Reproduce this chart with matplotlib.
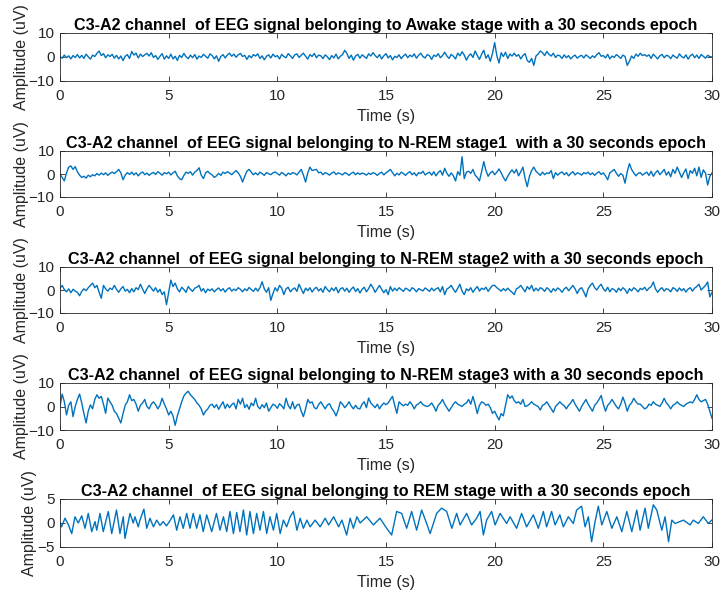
import numpy as np
import matplotlib
matplotlib.use("Agg")
import matplotlib.pyplot as plt

plt.rcParams['font.family'] = ['Liberation Sans', 'DejaVu Sans']

# ---- data (uV), sampled every 0.1 s from 0 to 30 s ----
sample_step = 0.1

awake = [
 0.2,-0.5,0.8,-0.3,0.5,-0.8,0.6,-0.2,1.0,-0.4,
 0.7,-0.6,1.2,0.1,-0.9,0.8,0.2,1.5,2.5,0.6,
 1.4,-0.3,0.9,0.2,1.1,-0.5,0.7,-0.8,0.4,-1.5,
 0.3,1.0,-0.6,2.3,0.8,1.6,-0.4,1.2,0.2,0.9,
 1.5,0.4,1.8,-0.2,0.6,-1.0,0.3,1.4,-0.9,0.5,
 -0.6,1.2,-0.8,0.3,-1.4,0.7,-0.2,1.5,0.1,-0.7,
 0.8,-0.3,1.0,-0.9,0.4,-0.2,1.1,0.3,-0.5,1.3,
 0.6,-0.8,0.5,-1.8,0.2,1.0,-0.4,0.8,1.6,0.3,
 1.2,-0.1,0.9,1.5,0.2,0.7,-1.0,0.6,-0.3,1.0,
 0.4,1.3,-0.6,0.5,-1.2,0.3,0.9,-0.4,1.2,0.1,
 0.6,-0.8,1.1,0.2,-0.3,1.4,0.5,-0.6,0.9,1.3,
 -0.2,0.7,1.6,0.3,-0.9,1.0,0.2,1.5,-0.3,0.8,
 0.5,-0.7,0.9,0.1,-1.1,0.6,-0.4,1.2,-0.8,0.3,
 1.0,2.8,1.5,-0.6,0.8,-1.3,0.4,1.1,-0.5,0.9,
 0.2,-0.6,1.3,0.4,1.8,0.6,-0.3,1.0,-0.8,0.5,
 1.4,-0.4,0.6,-1.2,0.3,-0.2,0.9,-0.7,0.4,1.2,
 -0.3,0.8,0.1,1.3,-0.5,0.7,1.6,0.2,-0.4,1.0,
 0.5,-1.0,0.8,0.2,1.4,-0.3,0.6,2.0,0.4,-0.6,
 1.1,0.3,-0.8,1.6,0.5,2.2,0.8,-1.3,0.4,1.3,
 -0.2,2.5,0.6,-1.0,1.2,2.8,-0.5,0.9,-1.8,1.5,
 6.0,0.5,-2.5,1.8,0.2,2.0,-0.6,1.2,0.4,1.6,
 0.3,1.0,-0.8,0.6,1.4,-1.5,-2.2,-0.6,-3.5,0.4,
 1.2,2.5,1.8,0.6,2.3,1.1,0.4,1.6,-0.2,0.8,
 0.5,-0.6,0.9,-0.3,0.6,-0.8,0.2,0.8,-0.5,0.3,
 0.7,-0.4,0.9,0.2,-0.6,0.5,-0.2,1.0,1.8,0.3,
 0.6,-0.4,1.1,-0.8,0.4,-0.2,1.0,0.3,-0.6,0.8,
 0.2,-3.5,-1.8,0.4,-0.6,1.2,0.3,1.6,0.6,1.0,
 0.3,0.9,-0.6,1.2,0.2,-0.8,0.5,1.1,-0.3,0.7,
 0.4,-0.7,0.8,0.1,-0.5,1.3,0.2,-0.4,0.9,-0.9,
 0.5,1.2,-0.3,0.8,-0.6,1.0,0.3,-0.5,0.7,0.2,
 0.0]

nrem1 = [
 0.0,-1.5,-3.0,0.5,3.0,3.5,2.0,3.2,1.0,-0.5,
 -1.5,-1.0,-1.8,-0.5,-1.2,-0.3,-0.8,0.2,-0.5,0.4,
 -0.3,0.5,-0.6,0.3,0.8,0.2,1.0,2.0,0.5,-2.5,
 -0.5,0.6,-0.2,0.8,-0.4,0.5,-0.8,0.3,0.9,-0.3,
 0.4,-0.6,0.2,0.7,-0.2,1.0,0.3,-0.5,0.6,0.1,
 0.8,-0.4,0.5,1.2,-0.8,-2.0,-2.5,-0.6,0.8,0.3,
 1.0,-0.5,0.8,1.5,2.7,-0.5,-2.0,0.5,1.2,0.2,
 -0.4,-1.5,-0.8,0.3,-0.6,0.8,0.2,1.0,0.4,-0.3,
 0.6,1.5,0.5,-1.0,-3.5,-1.0,1.2,2.0,0.8,-0.3,
 0.5,-0.4,0.8,0.2,-0.6,0.6,0.1,-0.3,0.5,0.9,
 0.2,-0.5,0.7,0.0,-0.8,0.4,-0.2,0.6,0.3,-0.4,
 0.8,2.0,-0.5,-3.5,0.5,3.0,1.5,1.8,2.0,0.5,
 0.8,-0.3,0.6,0.2,-0.5,0.4,0.9,-0.2,0.5,0.1,
 -0.4,0.6,0.2,-0.6,0.3,0.8,-0.3,0.5,-0.2,0.4,
 0.1,-0.5,0.4,-0.2,0.6,0.2,-0.6,0.3,0.8,-0.4,
 0.5,1.2,2.0,0.6,-0.8,0.3,-0.4,0.8,0.2,-0.6,
 0.4,1.0,-0.3,0.5,-0.8,0.6,0.2,1.2,-0.4,0.3,
 0.8,-0.5,1.0,-0.8,0.6,1.5,-0.5,2.5,0.3,-1.0,
 0.5,-0.8,-3.0,1.0,-0.5,7.5,-2.0,0.8,1.2,0.3,
 2.0,-0.5,-1.5,-3.0,1.0,5.4,1.5,-1.0,0.5,1.2,
 -0.3,0.8,2.2,0.5,-1.5,-3.0,-1.0,0.6,1.8,0.4,
 2.0,-0.8,1.0,3.0,-2.0,-5.5,-1.0,1.5,3.0,1.2,
 0.3,-0.6,0.8,-0.3,0.5,0.2,1.5,-2.0,0.6,-0.5,
 0.4,0.9,-0.3,0.6,-0.8,0.3,1.0,-0.4,0.5,0.2,
 -0.5,0.6,0.1,0.8,-0.3,0.5,-0.6,0.4,1.0,-0.2,
 0.5,-0.8,-2.5,0.5,1.2,2.0,0.3,-1.0,0.2,-0.5,
 -4.0,1.0,4.5,2.0,0.5,-0.8,0.3,0.6,-0.5,0.2,
 0.8,-0.6,1.2,-1.0,0.5,1.5,-0.3,0.8,2.0,-0.5,
 1.0,-1.2,2.0,0.3,3.0,0.8,-1.5,0.5,2.2,-2.0,
 1.5,0.3,2.5,-0.8,3.0,-1.5,1.8,0.4,-4.8,-1.0,
 0.5]

nrem2 = [
 0.7,2.0,0.2,-0.8,0.5,-1.2,0.3,-0.5,-1.0,-2.5,
 -0.6,0.5,-0.3,1.0,2.0,3.0,1.0,2.0,-1.0,-3.6,
 2.0,0.5,-0.5,0.8,0.2,2.0,0.3,-1.0,0.5,1.5,
 -0.5,0.3,-1.2,0.6,-0.8,1.0,0.2,2.5,0.4,-1.5,
 0.5,2.0,0.8,-0.5,1.0,-1.0,0.3,-2.0,-0.8,-6.4,
 -1.0,4.3,1.5,3.0,0.5,-0.8,1.2,0.2,-1.0,1.5,
 0.3,-0.6,0.8,1.2,2.0,-0.5,0.6,-1.2,0.4,-0.3,
 0.5,-0.8,0.2,0.9,-0.4,0.6,-0.9,0.3,1.0,-0.5,
 0.4,-0.2,1.0,0.3,-0.8,0.5,-0.3,1.1,0.2,-0.6,
 0.8,-0.5,1.0,3.6,0.5,-1.0,1.0,-4.5,-1.5,1.0,
 -0.5,2.0,0.8,-2.0,0.5,1.2,-0.8,0.3,0.9,-0.6,
 2.5,0.4,-1.5,0.8,-0.3,1.0,-0.9,0.5,1.2,-0.4,
 0.6,-1.0,1.5,0.2,-0.8,0.9,-0.3,1.2,-1.2,0.5,
 1.0,-0.5,0.8,-1.0,0.4,1.3,-0.6,0.6,-1.3,0.3,
 1.2,-0.8,0.6,2.5,1.0,-1.0,0.5,2.0,0.3,-1.2,
 0.2,-2.0,1.5,-0.5,0.8,-0.3,1.0,0.2,-0.6,0.8,
 0.3,-0.5,1.0,0.4,-0.8,0.6,0.1,-0.4,0.9,0.2,
 -0.6,0.8,-0.3,0.5,1.0,-0.8,1.5,-2.0,0.4,1.0,
 2.0,0.3,-1.0,0.8,2.5,-0.5,-2.0,0.5,-0.3,1.0,
 -1.0,0.4,1.5,-0.5,0.8,0.2,1.2,-0.6,0.8,2.0,
 2.0,1.0,0.3,-0.5,0.6,-0.3,0.8,-0.2,-1.0,-2.0,
 0.5,1.0,2.0,0.6,-0.8,1.5,0.3,2.0,-0.5,0.8,
 -0.3,1.0,0.5,-0.6,1.0,0.2,-1.0,0.6,-0.4,0.9,
 0.2,-1.0,0.5,1.2,-0.3,0.8,2.0,0.5,-1.5,0.4,
 1.0,-0.8,-3.0,0.5,2.0,3.0,1.0,0.0,1.5,2.5,
 0.5,-0.5,1.2,-0.8,0.6,0.2,-1.0,0.8,-0.3,1.0,
 0.2,-1.5,0.6,-0.4,1.0,0.3,-0.8,0.7,0.2,1.2,
 -0.3,0.8,1.5,3.5,0.5,-1.0,0.3,1.0,-0.5,0.6,
 0.2,-0.8,1.0,0.5,-0.6,0.9,-0.3,0.6,-0.9,0.4,
 1.0,-0.5,0.8,1.5,2.5,0.0,1.0,2.0,3.5,-3.0,
 -1.0]

nrem3 = [
 0.0,5.3,2.0,-3.6,0.5,2.0,-4.3,0.0,3.0,5.3,
 1.5,-3.0,-7.0,-2.0,0.7,-1.0,3.0,5.0,3.5,4.3,
 1.0,-2.9,3.6,2.0,0.5,-2.0,-3.0,-5.0,-7.0,-3.0,
 0.5,2.0,5.0,2.5,3.0,1.0,-2.0,0.5,1.5,3.0,
 0.0,-1.0,1.0,2.0,0.8,-1.0,0.5,3.5,1.0,-1.0,
 -3.6,-2.0,-4.0,-8.0,-4.0,-1.0,2.0,4.5,5.7,6.5,
 5.0,4.0,3.0,1.5,0.5,-1.0,-3.6,-2.0,-1.0,0.5,
 1.0,-0.5,0.8,-1.2,0.5,2.0,-0.8,1.0,-0.5,0.8,
 1.5,-1.0,3.0,1.0,3.5,-0.5,0.8,-1.2,1.5,0.3,
 3.5,0.0,-1.0,0.8,-0.5,1.5,-2.0,-0.5,1.0,0.5,
 -0.8,1.2,0.3,-1.0,3.5,0.5,-1.0,2.0,-1.0,0.6,
 1.0,-2.0,-4.3,-1.0,3.0,1.5,2.0,-0.5,-1.0,0.8,
 2.0,0.5,-1.0,0.6,1.2,-0.8,-2.0,-4.0,-1.5,2.0,
 1.0,-0.5,0.6,2.0,0.2,-1.0,0.5,-0.8,-1.0,1.0,
 2.0,-0.5,3.6,1.5,0.5,-0.5,1.0,-1.0,0.5,1.5,
 0.8,1.5,3.0,4.3,0.5,-2.9,2.0,1.0,0.3,1.0,
 0.5,2.0,0.8,-1.0,0.6,1.2,2.0,0.8,0.3,0.0,
 0.5,1.5,0.0,-2.0,0.5,1.5,3.0,1.0,-0.5,-2.0,
 -0.5,1.0,2.0,1.0,0.5,0.0,1.0,1.5,3.0,1.0,
 4.3,1.0,-3.0,0.5,2.0,1.5,0.5,1.0,-0.5,-2.9,
 -2.0,-4.0,-5.7,-3.0,-4.0,0.5,5.0,3.5,4.5,2.5,
 1.5,2.0,1.0,3.0,0.0,0.3,1.0,2.0,1.0,0.5,
 0.0,-1.5,0.5,1.0,2.0,0.5,-1.0,-2.5,0.0,1.0,
 2.0,1.0,0.3,-1.0,0.5,1.5,3.0,1.0,-0.5,-2.0,
 0.0,1.5,3.0,1.0,-0.5,-2.0,0.5,1.5,3.0,4.7,
 1.0,-2.0,0.5,1.5,3.0,1.5,0.0,-1.0,1.0,4.0,
 1.5,-2.0,0.5,1.5,3.5,2.0,1.0,1.0,0.0,-1.0,
 -0.5,1.0,0.5,2.0,1.0,0.5,0.0,1.5,3.5,1.5,
 0.5,-1.0,0.5,1.0,2.0,1.0,0.5,0.0,1.0,1.5,
 2.0,1.5,3.0,5.0,3.0,2.0,2.5,3.0,1.0,-2.0,
 -5.0]

# REM stage: (time s, amplitude uV) read at turning points
rem_t = [0.0,0.07,0.23,0.38,0.54,0.69,0.84,1.0,1.15,1.3,1.46,1.61,1.69,1.84,1.99,
         2.22,2.38,2.6,2.76,2.91,2.99,3.22,3.37,3.45,3.6,3.68,3.86,3.99,4.14,4.3,
         4.45,4.6,4.75,4.9,5.05,5.22,5.37,5.52,5.67,5.83,5.98,6.13,6.29,6.44,6.59,
         6.75,6.98,7.2,7.36,7.52,7.67,7.82,7.98,8.13,8.28,8.44,8.59,8.74,8.9,9.05,
         9.2,9.36,9.51,9.66,9.82,9.97,10.13,10.28,10.43,10.59,10.74,10.9,11.05,11.2,
         11.36,11.51,11.74,11.97,12.2,12.36,12.59,12.82,12.97,13.19,13.35,13.5,13.66,
         13.81,14.11,14.42,14.72,15.03,15.26,15.49,15.72,15.95,16.18,16.41,16.64,16.87,
         17.03,17.33,17.56,17.79,18.03,18.25,18.41,18.71,18.94,19.17,19.33,19.48,19.63,
         19.86,20.02,20.25,20.55,20.71,21.01,21.24,21.47,21.78,22.01,22.24,22.39,22.62,
         22.78,23.0,23.16,23.39,23.62,23.77,24.0,24.16,24.31,24.46,24.62,24.77,24.93,
         25.16,25.39,25.62,25.85,26.08,26.31,26.54,26.69,26.92,27.07,27.3,27.46,27.69,
         27.84,28.0,28.15,28.3,28.69,28.99,29.14,29.37,29.6,29.83,29.99]
rem_v = [0.0,-0.8,1.0,-0.3,-2.2,1.3,0.0,1.5,-1.1,2.0,-1.8,0.3,-1.5,2.0,-1.8,
         2.4,-2.2,2.7,-2.2,1.3,-3.2,2.0,0.0,1.3,-0.8,0.6,2.9,-1.1,1.0,-0.8,
         0.6,-0.5,0.3,-0.6,0.4,1.7,-1.5,1.3,-1.1,2.0,-1.1,2.0,-1.1,1.7,-1.8,
         1.7,-1.8,2.0,-1.5,1.3,-1.8,2.4,-2.2,2.2,-1.8,2.7,-2.5,2.4,-2.2,2.0,
         -1.5,2.4,-2.2,1.3,-1.5,2.0,-2.2,0.6,-0.8,1.3,2.4,-1.5,1.0,-1.1,
         0.6,-0.8,0.6,-0.8,1.0,-0.4,1.3,-0.8,0.6,-2.5,1.0,-1.1,1.3,
         0.0,1.3,-0.4,1.0,-1.1,-2.5,2.4,2.0,-1.1,2.4,-1.5,2.7,-0.1,
         -2.2,2.0,3.1,2.4,-1.1,2.0,-0.4,2.0,-0.4,1.0,2.4,-2.5,0.6,
         2.4,-0.4,2.0,-0.1,1.3,-1.1,2.0,-0.8,1.7,-1.1,2.4,-0.8,2.4,
         -0.4,1.7,-0.8,1.3,-0.1,2.7,3.5,-0.8,1.3,-3.9,0.3,3.5,-0.4,
         2.4,-1.1,1.3,-1.8,2.4,-1.8,2.7,-1.5,3.1,-1.1,3.8,2.7,-1.5,
         1.3,-3.9,0.6,-0.1,0.6,-0.4,0.6,-0.1,1.3,-0.1,0.6]

titles = [
    "C3-A2 channel  of EEG signal belonging to Awake stage with a 30 seconds epoch",
    "C3-A2 channel  of EEG signal belonging to N-REM stage1  with a 30 seconds epoch",
    "C3-A2 channel  of EEG signal belonging to N-REM stage2 with a 30 seconds epoch",
    "C3-A2 channel  of EEG signal belonging to N-REM stage3 with a 30 seconds epoch",
    "C3-A2 channel  of EEG signal belonging to REM stage with a 30 seconds epoch",
]
x_ticks = [0, 5, 10, 15, 20, 25, 30]
y_limits = [(-10, 10), (-10, 10), (-10, 10), (-10, 10), (-5, 5)]
y_ticks = [[-10, 0, 10], [-10, 0, 10], [-10, 0, 10], [-10, 0, 10], [-5, 0, 5]]
x_label = "Time (s)"
y_label = "Amplitude (uV)"

# ---- figure ----
W, H = 721, 592
fig = plt.figure(figsize=(W / 100, H / 100), dpi=100)
line_color = "#0072BD"
panel_px = [(33, 81), (151, 197), (267, 313), (383, 430), (499, 547)]
left_px, right_px = 60, 712

grid_t = np.arange(len(awake)) * sample_step
series = [(grid_t, awake), (grid_t, nrem1), (grid_t, nrem2), (grid_t, nrem3), (rem_t, rem_v)]

for i, ((tx, vy), (top, bot)) in enumerate(zip(series, panel_px)):
    ax = fig.add_axes([left_px / W, 1 - bot / H, (right_px - left_px) / W, (bot - top) / H])
    ax.plot(tx, vy, color=line_color, linewidth=1.0)
    ax.set_xlim(0, 30)
    ax.set_ylim(*y_limits[i])
    ax.set_xticks(x_ticks)
    ax.set_yticks(y_ticks[i])
    ax.tick_params(direction='in', top=True, right=True, length=3.5, width=0.6,
                   labelsize=11, colors='#262626', pad=6)
    ax.tick_params(axis='y', pad=4)
    for sp in ax.spines.values():
        sp.set_linewidth(0.6)
        sp.set_color('#262626')
    ax.set_title(titles[i], fontsize=11.6, fontweight='bold', pad=2, color='black')
    ax.set_xlabel(x_label, fontsize=11.5, labelpad=4, color='#262626')
    ax.set_ylabel(y_label, fontsize=11.5, labelpad=0, color='#262626')

fig.savefig("out.png", dpi=100, facecolor='white')
